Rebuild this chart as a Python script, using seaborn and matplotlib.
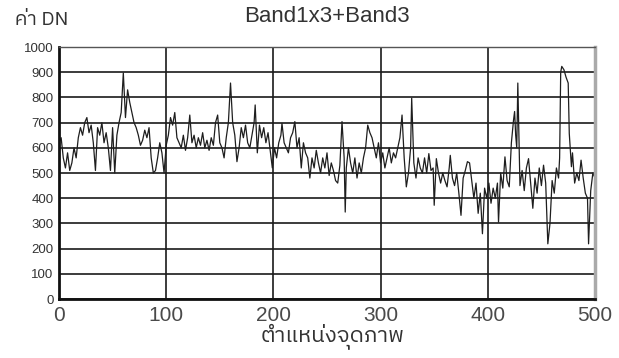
import matplotlib
matplotlib.use("Agg")
import matplotlib.pyplot as plt
import seaborn as sns
import pandas as pd
from matplotlib import font_manager, ft2font

# ---- data ----
pixel_pos = [0, 2, 4, 6, 8, 10, 12, 14, 16, 18, 20, 22, 24, 26, 28, 30, 32, 34, 36, 38,
             40, 42, 44, 46, 48, 50, 52, 54, 56, 58, 60, 62, 64, 66, 68, 70, 72, 74, 76, 78,
             80, 82, 84, 86, 88, 90, 92, 94, 96, 98, 100, 102, 104, 106, 108, 110, 112, 114, 116, 118,
             120, 122, 124, 126, 128, 130, 132, 134, 136, 138, 140, 142, 144, 146, 148, 150, 152, 154, 156, 158,
             160, 162, 164, 166, 168, 170, 172, 174, 176, 178, 180, 182, 183, 185, 187, 189, 191, 193, 195, 197,
             199, 201, 203, 205, 207, 208, 210, 212, 214, 216, 218, 220, 222, 224, 226, 228, 230, 232, 234, 236,
             238, 240, 242, 244, 246, 248, 250, 252, 254, 256, 258, 260, 262, 264, 266, 267, 268, 270, 272, 274,
             276, 278, 280, 282, 284, 286, 288, 290, 292, 294, 296, 298, 300, 302, 304, 306, 308, 310, 312, 314,
             316, 318, 320, 322, 324, 326, 328, 329, 331, 333, 335, 337, 339, 341, 343, 345, 347, 349, 350, 352,
             354, 356, 358, 360, 362, 364, 365, 367, 369, 371, 373, 375, 377, 379, 381, 383, 385, 387, 389, 391,
             393, 395, 397, 399, 401, 403, 405, 407, 409, 410, 412, 414, 416, 418, 420, 422, 424, 425, 426, 427,
             428, 430, 432, 434, 436, 438, 440, 442, 444, 446, 448, 450, 452, 454, 456, 458, 460, 462, 464, 466,
             467, 468, 469, 471, 473, 475, 476, 478, 479, 481, 483, 485, 487, 489, 491, 493, 494, 496, 498, 500]
dn_value = [620, 640, 560, 520, 580, 510, 540, 600, 560, 640, 680, 650, 700, 720, 660, 690, 620, 510, 680, 650,
            700, 620, 660, 600, 510, 680, 500, 650, 700, 740, 897, 720, 830, 780, 740, 700, 680, 650, 610, 630,
            670, 640, 680, 560, 500, 510, 560, 620, 580, 500, 610, 650, 720, 690, 740, 640, 620, 600, 650, 590,
            640, 730, 620, 650, 600, 640, 610, 660, 600, 630, 590, 640, 610, 700, 730, 620, 600, 560, 640, 700,
            857, 700, 650, 545, 600, 680, 640, 690, 620, 600, 650, 700, 770, 580, 690, 640, 680, 620, 660, 590,
            520, 600, 560, 620, 650, 697, 620, 600, 580, 640, 660, 704, 600, 640, 520, 620, 580, 560, 480, 560,
            520, 590, 540, 500, 560, 520, 580, 490, 540, 510, 470, 460, 530, 704, 560, 345, 520, 600, 540, 500,
            560, 480, 540, 500, 560, 600, 690, 660, 640, 600, 560, 620, 540, 580, 520, 560, 600, 540, 580, 560,
            600, 640, 730, 560, 445, 500, 600, 797, 540, 480, 560, 520, 500, 560, 500, 577, 510, 520, 372, 557,
            500, 460, 500, 470, 445, 520, 570, 480, 450, 500, 420, 332, 480, 510, 545, 540, 470, 400, 460, 340,
            420, 259, 440, 400, 460, 380, 440, 400, 460, 305, 500, 440, 564, 470, 445, 620, 710, 744, 650, 600,
            857, 450, 510, 430, 520, 557, 460, 360, 480, 420, 520, 450, 531, 460, 219, 300, 470, 420, 520, 480,
            560, 900, 923, 910, 880, 857, 657, 525, 580, 460, 500, 470, 551, 480, 420, 400, 219, 430, 500, 480]
x_ticks = [0, 100, 200, 300, 400, 500]
y_ticks = [0, 100, 200, 300, 400, 500, 600, 700, 800, 900, 1000]
title_text = "Band1x3+Band3"
y_title = "ค่า DN"
x_title = "ตำแหน่งจุดภาพ"

df = pd.DataFrame({"pos": pixel_pos, "dn": dn_value})

sns.set_style("white")


def find_font_with(chars):
    prefer = []
    for f in font_manager.fontManager.ttflist:
        try:
            cm = ft2font.FT2Font(f.fname).get_charmap()
        except Exception:
            continue
        if all(ord(c) in cm for c in chars):
            prefer.append(f.name)
    for p in prefer:
        if "Sans" in p:
            return p
    return prefer[0] if prefer else "DejaVu Sans"


thai_font = find_font_with("ตำแหน่งจุดภาพค่า")
names = {f.name for f in font_manager.fontManager.ttflist}
narrow = "Liberation Sans Narrow" if "Liberation Sans Narrow" in names else "Liberation Sans"
plt.rcParams["font.family"] = ["Liberation Sans", "DejaVu Sans"]

fig = plt.figure(figsize=(6.19, 3.58), dpi=100)
ax = fig.add_axes([59 / 619, 59 / 358, 536 / 619, 252 / 358])

sns.lineplot(data=df, x="pos", y="dn", ax=ax, color="#1e1e1e", linewidth=0.9)

ax.set_xlim(0, 500)
ax.set_ylim(0, 1000)
ax.set_xticks(x_ticks)
ax.set_yticks(y_ticks)
ax.set_xticklabels([str(v) for v in x_ticks], fontsize=15, color="#4a4a4a")
ax.set_yticklabels([str(v) for v in y_ticks], fontsize=9.5, color="#333333",
                   fontfamily=narrow)
ax.grid(True, color="#1a1a1a", linewidth=1.2)
ax.set_axisbelow(True)
ax.tick_params(axis="both", direction="out", length=3, width=1, color="#222222", pad=1)
ax.tick_params(axis="x", pad=2)
ax.set_xlabel("")
ax.set_ylabel("")
for side in ["left", "bottom"]:
    ax.spines[side].set_color("#111111")
    ax.spines[side].set_linewidth(2)
ax.spines["top"].set_color("#555555")
ax.spines["top"].set_linewidth(1)
ax.spines["right"].set_color("#aaaaaa")
ax.spines["right"].set_linewidth(2.5)

fig.text(327 / 619, 1 - 17 / 358, title_text, ha="center", va="center",
         fontsize=16, color="#333333")
fig.text(15 / 619, 1 - 20 / 358, y_title, ha="left", va="center",
         fontsize=14, color="#333333", family=[thai_font, "DejaVu Sans"])
fig.text(333 / 619, 1 - 336 / 358, x_title, ha="center", va="center",
         fontsize=16, color="#333333", family=[thai_font, "DejaVu Sans"])

fig.savefig("out.png", dpi=100, facecolor="white")
